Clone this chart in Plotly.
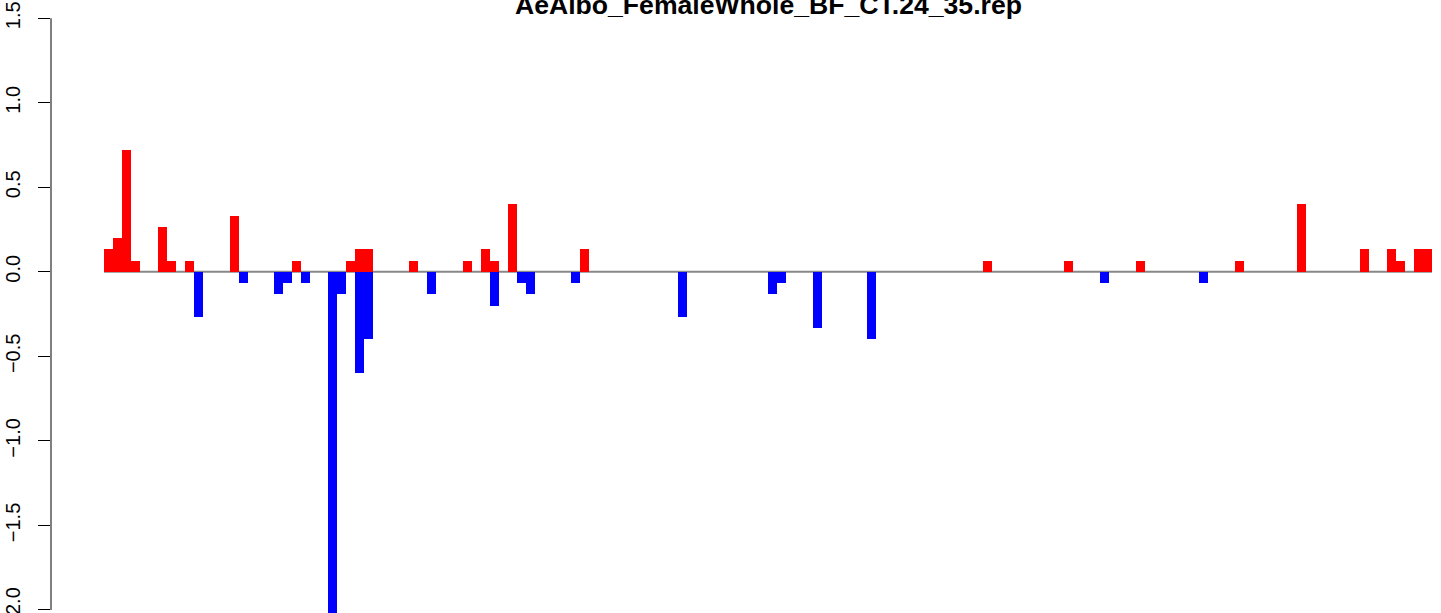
import plotly.graph_objects as go

title_text = "AeAlbo_FemaleWhole_BF_CT.24_35.rep"

n_bins = 148

# positive (red) values by bin index
up_index = [0, 1, 2, 3, 6, 7, 9, 14, 21, 27, 28, 29, 34, 40, 42, 43, 45, 53,
            98, 107, 115, 126, 133, 140, 143, 144, 146, 147]
up_value = [0.133, 0.2, 0.72, 0.067, 0.267, 0.067, 0.067, 0.333, 0.067, 0.067,
            0.133, 0.133, 0.067, 0.067, 0.133, 0.067, 0.4, 0.133,
            0.067, 0.067, 0.067, 0.067, 0.4, 0.133, 0.133, 0.067, 0.133, 0.133]

# negative (blue) values by bin index
down_index = [10, 15, 19, 20, 22, 25, 26, 28, 29, 36, 43, 46, 47, 52, 64, 74,
              75, 79, 85, 111, 122]
down_value = [-0.267, -0.067, -0.133, -0.067, -0.067, -2.1, -0.133, -0.6, -0.4,
              -0.133, -0.2, -0.067, -0.133, -0.067, -0.267, -0.133, -0.067,
              -0.333, -0.4, -0.067, -0.067]

y_tick_vals = [-2.0, -1.5, -1.0, -0.5, 0.0, 0.5, 1.0, 1.5]
y_tick_text = ["\u22122.0", "\u22121.5", "\u22121.0", "\u22120.5", "0.0", "0.5", "1.0", "1.5"]

up = [0.0] * n_bins
for i, v in zip(up_index, up_value):
    up[i] = v
down = [0.0] * n_bins
for i, v in zip(down_index, down_value):
    down[i] = v

xs = [i + 0.5 for i in range(n_bins)]

fig = go.Figure()
fig.add_trace(go.Bar(x=xs, y=up, width=1, marker=dict(color="#FF0000", line=dict(width=0)),
                     showlegend=False, hoverinfo="skip"))
fig.add_trace(go.Bar(x=xs, y=down, width=1, marker=dict(color="#0000FF", line=dict(width=0)),
                     showlegend=False, hoverinfo="skip"))

# baseline across bars
fig.add_shape(type="line", xref="x", yref="y", x0=0, x1=n_bins, y0=0, y1=0,
              line=dict(color="#888888", width=2), layer="below")
# y axis line (R-style, only across tick range)
fig.add_shape(type="line", xref="paper", yref="y", x0=0, x1=0, y0=-2.0, y1=1.5,
              line=dict(color="black", width=1))

fig.add_annotation(text="<b>" + title_text + "</b>", xref="paper", yref="paper",
                   x=(768 - 51) / 1390, y=1.0, yanchor="middle", xanchor="center",
                   yshift=-5, showarrow=False,
                   font=dict(family="Liberation Sans, Arial", size=26.6, color="black"))

fig.update_layout(
    width=1441, height=613,
    margin=dict(l=51, r=0, t=0, b=0, autoexpand=False),
    paper_bgcolor="white", plot_bgcolor="white",
    barmode="overlay",
    bargap=0,
    font=dict(family="Liberation Sans, Arial", color="black"),
    xaxis=dict(range=[-5.907, 149.0], visible=False, showgrid=False, zeroline=False,
               automargin=False),
    yaxis=dict(range=[-2.018, 1.608], tickvals=y_tick_vals, ticktext=y_tick_text,
               tickangle=-90, ticks="outside", ticklen=12, tickcolor="black", tickwidth=1,
               showgrid=False, zeroline=False, showline=False, automargin=False,
               tickfont=dict(family="Liberation Sans, Arial", size=20, color="black"),
               ticklabelstandoff=10, ticklabeloverflow="allow"),
)

fig.write_html("out.html", config={"displayModeBar": False},
               post_script="document.body.style.margin='0';")
